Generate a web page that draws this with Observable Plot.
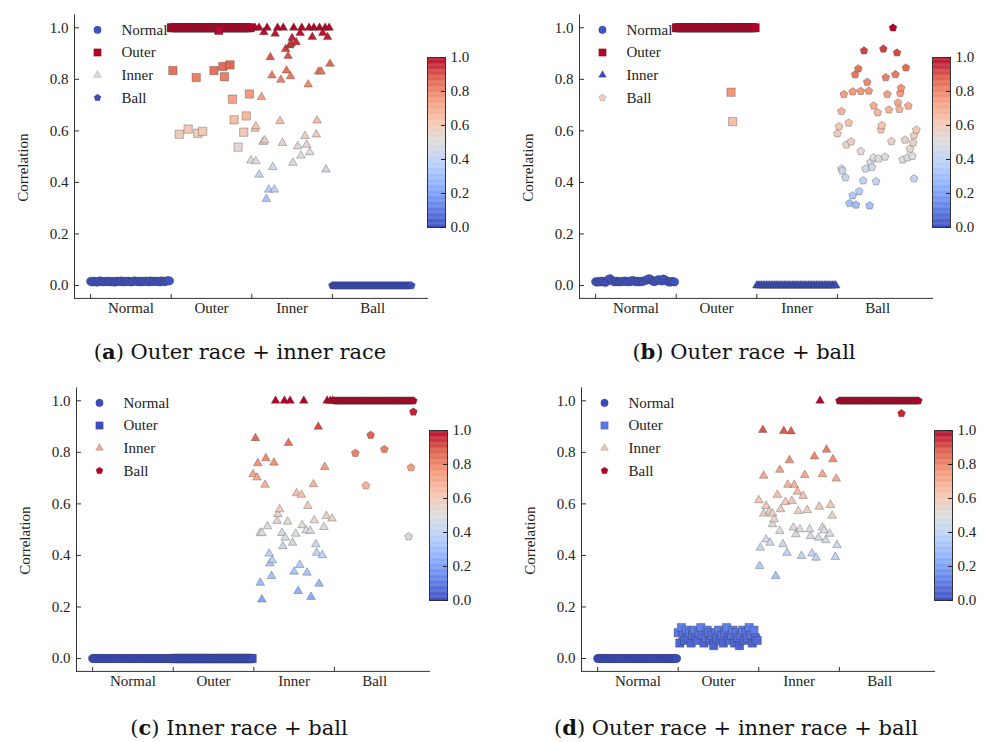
<!DOCTYPE html>
<html><head><meta charset="utf-8">
<script src="https://cdn.jsdelivr.net/npm/d3@7"></script>
<script src="https://cdn.jsdelivr.net/npm/@observablehq/plot@0.6"></script>
<style>
body{margin:0;background:#fff;}
#root{position:relative;width:984px;height:742px;overflow:hidden;background:#fff;}
.abs{position:absolute;}
.abs svg{max-width:none !important;}
.cap{position:absolute;width:500px;text-align:center;font-family:"DejaVu Serif",serif;font-size:21px;line-height:28px;color:#111;}
</style></head>
<body><div id="root"></div>
<script>
// ---------- data ----------
const classes = ["Normal", "Outer", "Inner", "Ball"];
const yTicks = [0, 0.2, 0.4, 0.6, 0.8, 1.0];
const classStarts = [0, 100, 200, 300];

// (a) Outer race + inner race
const aNormal = [.016,.014,.017,.015,.013,.016,.018,.015,.014,.016,
 .015,.017,.014,.016,.015,.013,.017,.016,.015,.018,
 .014,.016,.015,.017,.016,.014,.015,.018,.016,.015,
 .017,.014,.016,.015,.017,.016,.014,.018,.015,.016,
 .017,.015,.016,.014,.018,.016,.015,.017,.019,.018];
const aOuterBand = [1,1,1,1,1,1,1,1,1,1, 1,1,1,1,1,1,1,1,1,1, 1,1,1,1,1,1,1,1,1,1, 1,1,1,1,1,1,1,1,1,1, 1,1,1,1,1,1,1,1,1,1];
const aOuterPts = [[102,.834],[110,.587],[121,.607],[131,.807],[133,.591],[139,.598],[153,.834],[159,.99],[164,.85],[166,.81],[173,.856],[176,.723],[178,.643],[183,.537],[190,.595],[193,.658],[197,.743]];
const aInnerPts = [[199,.485],[204,.608],[204,1],[205,.482],[205,.618],[209,.43],[209,1],[212,.731],[214,.557],[215,.983],[216,.563],[218,.336],[219,1],[221,.372],[223,.886],[225,.815],[226,.46],[228,.372],[229,.977],[232,1],[235,.638],[236,.798],[238,.553],[239,1],[242,.918],[243,.834],[245,.89],[247,.931],[248,.812],[249,.938],[250,.96],[251,.476],[252,1],[255,.944],[257,.54],[260,.98],[261,.504],[262,1],[266,.58],[268,.546],[270,.78],[271,1],[272,.517],[275,.964],[277,1],[280,.586],[281,.64],[283,.83],[284,1],[286,.83],[288,.98],[291,1],[292,.45],[294,.964],[296,1],[297,.86]];
const aBall = [0,0,0,0,0,0,0,0,0,0, 0,0,0,0,0,0,0,0,0,0, 0,0,0,0,0,0,0,0,0,0, 0,0,0,0,0,0,0,0,0,0, 0,0,0,0,0,0,0,0,0,0];

// (b) Outer race + ball
const bNormal = [.015,.013,.016,.014,.017,.015,.012,.016,.024,.026,
 .02,.016,.014,.017,.015,.014,.016,.015,.018,.015,
 .016,.014,.018,.02,.016,.015,.017,.014,.016,.015,
 .018,.02,.022,.026,.024,.019,.015,.016,.02,.023,
 .021,.017,.025,.022,.018,.015,.013,.016,.015,.014];
const bOuterBand = [1,1,1,1,1,1,1,1,1,1, 1,1,1,1,1,1,1,1,1,1, 1,1,1,1,1,1,1,1,1,1, 1,1,1,1,1,1,1,1,1,1, 1,1,1,1,1,1,1,1,1,1];
const bOuterPts = [[168,.75],[170,.636]];
const bInner = [0,0,0,0,0,0,0,0,0,0, 0,0,0,0,0,0,0,0,0,0, 0,0,0,0,0,0,0,0,0,0, 0,0,0,0,0,0,0,0,0,0, 0,0,0,0,0,0,0,0,0,0];
const bBallPts = [[300,.589],[302,.617],[305,.676],[305,.453],[306,.445],[308,.742],[310,.419],[311,.546],[314,.631],[315,.319],[317,.558],[319,.752],[319,.349],[322,.818],[323,.313],[326,.841],[327,.365],[329,.754],[329,.521],[332,.407],[333,.911],[335,.453],[337,.789],[339,.755],[340,.31],[341,.478],[343,.459],[345,.697],[345,.496],[348,.404],[350,.671],[351,.492],[354,.605],[355,.621],[357,.918],[359,.499],[360,.807],[362,.742],[364,.682],[367,.559],[369,1],[372,.819],[374,.903],[375,.709],[377,.684],[378,.746],[379,.766],[381,.488],[384,.565],[385,.845],[387,.496],[388,.697],[390,.53],[393,.502],[394,.554],[395,.582],[395,.415],[398,.604]];

// (c) Inner race + ball
const cNormal = [0,0,0,0,0,0,0,0,0,0, 0,0,0,0,0,0,0,0,0,0, 0,0,0,0,0,0,0,0,0,0, 0,0,0,0,0,0,0,0,0,0, 0,0,0,0,0,0,0,0,0,0];
const cOuter = [0,0,0,0,0,0,0,0,0,0, 0,0,0,0,0,0,0,0,0,0, 0,0,0,0,0,0,0,0,0,0, 0,0,0,0,0,0,0,0,0,0, 0,0,0,0,0,0,0,0,0,0];
const cInnerPts = [[199,.715],[202,.855],[204,.702],[205,.758],[208,.488],[208,.294],[210,.486],[210,.229],[214,.674],[215,.777],[217,.513],[219,.407],[220,.369],[222,.32],[223,.381],[225,.76],[227,1],[229,.534],[230,.56],[232,.579],[235,.487],[236,.436],[238,1],[239,.469],[242,.531],[243,.836],[245,1],[248,.449],[250,.337],[252,.484],[253,.641],[255,.262],[257,.363],[259,.635],[260,.517],[262,1],[265,.497],[266,.333],[267,.592],[270,.495],[271,.239],[274,.676],[275,.536],[277,.443],[278,.41],[280,.899],[281,.29],[285,.401],[287,.51],[288,.743],[290,.553],[291,1],[295,1],[297,.543],[298,1]];
const cBallBand = [1,1,1,1,1,1,1,1,1,1, 1,1,1,1,1,1,1,1,1,1, 1,1,1,1,1,1,1,1,1,1, 1,1,1,1,1,1,1,1,1,1, 1,1,1,1,1,1,1,1,1,1];
const cBallPts = [[326,.797],[339,.671],[345,.867],[362,.812],[392,.473],[395,.741],[398,.957]];

// (d) Outer race + inner race + ball
const dNormal = [0,0,0,0,0,0,0,0,0,0, 0,0,0,0,0,0,0,0,0,0, 0,0,0,0,0,0,0,0,0,0, 0,0,0,0,0,0,0,0,0,0, 0,0,0,0,0,0,0,0,0,0];
const dOuter = [.10,.06,.12,.09,.07,.11,.08,.10,.06,.09,
 .11,.08,.07,.10,.12,.09,.06,.08,.11,.10,
 .07,.09,.05,.10,.08,.11,.07,.09,.06,.10,
 .12,.08,.07,.09,.11,.06,.10,.08,.05,.09,
 .11,.07,.10,.08,.12,.09,.06,.11,.08,.07];
const dInnerPts = [[200,.614],[201,.359],[202,.43],[205,.887],[206,.709],[206,.562],[209,.592],[209,.462],[213,.57],[214,.449],[217,.562],[217,.521],[219,.54],[221,.32],[223,.635],[226,.732],[226,.495],[227,.579],[230,.443],[231,.883],[233,.607],[235,.41],[236,.674],[238,.769],[240,.881],[241,.611],[243,.508],[244,.674],[246,.482],[248,.647],[249,.572],[251,.501],[253,.398],[255,.631],[257,.712],[260,.576],[263,.501],[264,.475],[266,.407],[269,.784],[271,.391],[274,.469],[275,.589],[276,1],[279,.715],[279,.508],[281,.497],[283,.459],[284,.81],[288,.484],[289,.596],[291,.554],[292,.773],[295,.394],[296,.698],[297,.44]];
const dBallBand = [1,1,1,1,1,1,1,1,1,1, 1,1,1,1,1,1,1,1,1,1, 1,1,1,1,1,1,1,1,1,1, 1,1,1,1,1,1,1,1,1,1, 1,1,1,1,1,1,1,1,1,1];
const dBallPts = [[377,.951]];

// ---------- styling ----------
const cmapStops = [0, .125, .25, .375, .5, .625, .75, .875, 1];
const cmapColors = ["#3b4cc0","#6282ea","#8db0fe","#b8d0f9","#dddddd","#f5c4ad","#f49a7b","#de604d","#b40426"];
const colorScale = {type: "linear", domain: cmapStops, range: cmapColors, interpolate: "rgb"};
const FONT = "'Liberation Serif', 'Times New Roman', serif";

const pentagon = {draw(ctx, size) {
  const R = Math.sqrt(size / Math.PI);
  for (let k = 0; k < 5; k++) {
    const a = -Math.PI / 2 + k * 2 * Math.PI / 5;
    const px = R * Math.cos(a), py = R * Math.sin(a);
    if (k === 0) ctx.moveTo(px, py); else ctx.lineTo(px, py);
  }
  ctx.closePath();
}};
const tickRight = {draw(c) { c.moveTo(0, 0); c.lineTo(4.5, 0); }};
const tickLeft = {draw(c) { c.moveTo(0, 0); c.lineTo(-4.5, 0); }};
const tickUp = {draw(c) { c.moveTo(0, 0); c.lineTo(0, -4.5); }};
const SYMS = ["circle", "square", "triangle", pentagon];
const RADII = [4.2, 4.7, 3.2, 4.1];

const band = (c, vals) => vals.map((v, i) => ({x: classStarts[c] + 2 * i, v}));
const pts = (pairs) => pairs.map(([x, v]) => ({x, v}));

const panels = [
  {ox: 0, oy: 0, label: "a", title: "Outer race + inner race", cx: 240, cy: 352,
   series: [band(0, aNormal), band(1, aOuterBand).concat(pts(aOuterPts)), pts(aInnerPts), band(3, aBall)]},
  {ox: 505.3, oy: 0, label: "b", title: "Outer race + ball", cx: 744, cy: 352,
   series: [band(0, bNormal), band(1, bOuterBand).concat(pts(bOuterPts)), band(2, bInner), pts(bBallPts)]},
  {ox: 2, oy: 372.7, label: "c", title: "Inner race + ball", cx: 239, cy: 728,
   series: [band(0, cNormal), band(1, cOuter), pts(cInnerPts), band(3, cBallBand).concat(pts(cBallPts))]},
  {ox: 507.3, oy: 372.7, label: "d", title: "Outer race + inner race + ball", cx: 736, cy: 728,
   series: [band(0, dNormal), band(1, dOuter), pts(dInnerPts), band(3, dBallBand).concat(pts(dBallPts))]}
];

const root = document.getElementById("root");
function place(el, left, top, w, h) {
  const d = document.createElement("div");
  d.className = "abs";
  d.style.left = left + "px";
  d.style.top = top + "px";
  d.style.width = w + "px";
  d.style.height = h + "px";
  el.style.maxWidth = "none";
  d.appendChild(el);
  root.appendChild(d);
}

for (const p of panels) {
  const marks = [];
  marks.push(Plot.frame({anchor: "left", stroke: "#333", strokeWidth: 1}));
  marks.push(Plot.frame({anchor: "bottom", stroke: "#333", strokeWidth: 1}));
  p.series.forEach((rows, k) => {
    marks.push(Plot.dot(rows, {x: "x", y: "v", fill: "v", symbol: SYMS[k], r: RADII[k],
      stroke: "#333", strokeOpacity: 0.45, strokeWidth: 0.7}));
  });
  // legend
  p.series.forEach((rows, k) => {
    const first = rows.reduce((a, b) => (b.x < a.x ? b : a));
    const dy = 15 + 22.6 * k;
    marks.push(Plot.dot([first.v], {frameAnchor: "top-left", dx: 23, dy, symbol: SYMS[k], r: RADII[k] * 0.9,
      fill: d => d, stroke: "#333", strokeOpacity: 0.3, strokeWidth: 0.6}));
    marks.push(Plot.text([classes[k]], {frameAnchor: "top-left", dx: 47, dy, text: d => d, textAnchor: "start",
      lineAnchor: "middle", fontSize: 15, fill: "#222"}));
  });
  // axes
  marks.push(Plot.axisY({ticks: yTicks, tickFormat: d3.format(".1f"), tickSize: 0, tickPadding: 6, label: null, fontSize: 15, color: "#222"}));
  marks.push(Plot.dot(yTicks, {y: d => d, frameAnchor: "left", symbol: tickRight, fill: "none", stroke: "#333", strokeWidth: 1}));
  marks.push(Plot.dot(classStarts, {x: d => d, frameAnchor: "bottom", symbol: tickUp, fill: "none", stroke: "#333", strokeWidth: 1}));
  marks.push(Plot.text(classes, {x: (d, i) => classStarts[i] + 50, frameAnchor: "bottom", dy: 9.5, lineAnchor: "middle",
    textAnchor: "middle", text: d => d, fontSize: 15, fill: "#222"}));
  marks.push(Plot.text(["Correlation"], {frameAnchor: "left", dx: -51, dy: 11, rotate: -90, textAnchor: "middle",
    lineAnchor: "middle", text: d => d, fontSize: 15, fill: "#222"}));

  const chart = Plot.plot({
    width: 440, height: 330,
    marginLeft: 74, marginRight: 13, marginTop: 14.4, marginBottom: 32.1,
    x: {domain: [-20, 418], axis: null},
    y: {domain: [-0.05, 1.05], axis: null},
    color: colorScale,
    style: {fontFamily: FONT, fontSize: "15px", background: "transparent", overflow: "visible", color: "#222"},
    marks
  });
  place(chart, p.ox, p.oy, 440, 330);

  // colorbar
  const stripes = d3.range(0, 1, 0.005);
  const cbar = Plot.plot({
    width: 62, height: 190, marginTop: 10, marginBottom: 10, marginLeft: 0, marginRight: 44,
    x: {domain: [0, 1], axis: null},
    y: {domain: [0, 1], axis: null},
    color: colorScale,
    style: {fontFamily: FONT, fontSize: "15px", background: "transparent", overflow: "visible", color: "#222"},
    marks: [
      Plot.rect(stripes, {y1: d => d, y2: d => Math.min(1, d + 0.0065), fill: d => d + 0.0025}),
      Plot.frame({stroke: "#333", strokeWidth: 1}),
      Plot.dot(yTicks, {y: d => d, frameAnchor: "right", symbol: tickLeft, fill: "none", stroke: "#222", strokeWidth: 1}),
      Plot.axisY({anchor: "right", ticks: yTicks, tickFormat: d3.format(".1f"), tickSize: 0, tickPadding: 5, label: null, fontSize: 15, color: "#222"})
    ]
  });
  place(cbar, p.ox + 427, p.oy + 47, 62, 190);

  // caption
  const cap = document.createElement("div");
  cap.className = "cap";
  cap.style.left = (p.cx - 250) + "px";
  cap.style.top = (p.cy - 14) + "px";
  cap.innerHTML = "(<b>" + p.label + "</b>) " + p.title;
  root.appendChild(cap);
}
</script>
</body></html>
